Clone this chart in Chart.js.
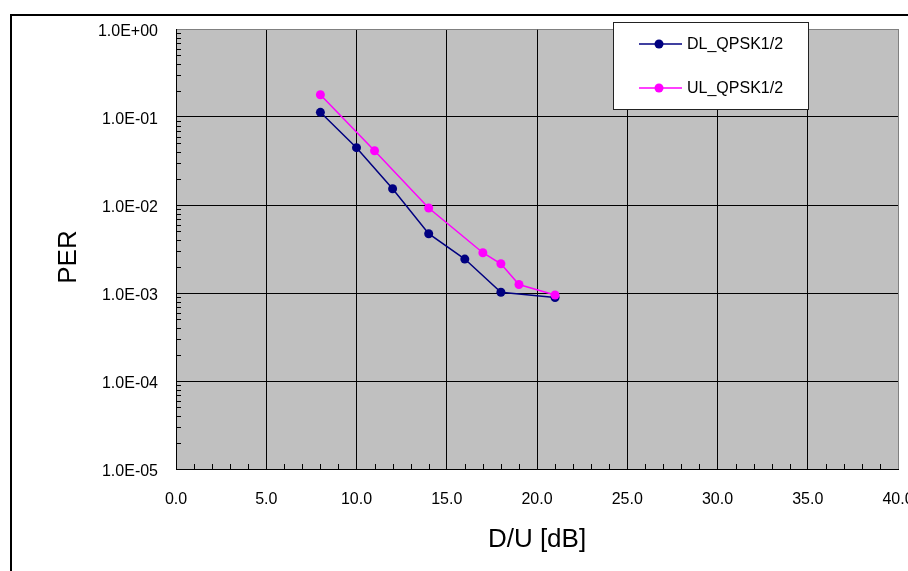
<!DOCTYPE html>
<html>
<head>
<meta charset="utf-8">
<title>PER vs D/U</title>
<script src="https://cdn.jsdelivr.net/npm/chart.js@4.4.1/dist/chart.umd.min.js"></script>
<style>
  html, body { margin: 0; padding: 0; background: #fff; }
  #wrap { width: 908px; height: 571px; position: relative; }
</style>
</head>
<body>
<div id="wrap"><canvas id="perChart" width="908" height="571"></canvas></div>
<script>
// measured PER curves (D/U in dB)
const dlDU  = [8, 10, 12, 14, 16, 18, 21];
const dlPER = [0.113, 0.0448, 0.0153, 0.00472, 0.00243, 0.00102, 0.00089];
const ulDU  = [8, 11, 14, 17, 18, 19, 21];
const ulPER = [0.179, 0.0414, 0.00925, 0.00287, 0.00215, 0.00125, 0.00095];

const xTickValues = [0, 5, 10, 15, 20, 25, 30, 35, 40];
const xTickLabels = ['0.0', '5.0', '10.0', '15.0', '20.0', '25.0', '30.0', '35.0', '40.0'];
const yTickValues = [1e-5, 1e-4, 1e-3, 1e-2, 1e-1, 1];
const yTickLabels = ['1.0E-05', '1.0E-04', '1.0E-03', '1.0E-02', '1.0E-01', '1.0E+00'];

const seriesNames = ['DL_QPSK1/2', 'UL_QPSK1/2'];
const FONT = "'Liberation Sans', Arial, sans-serif";

function toPoints(xs, ys) { return xs.map((x, i) => ({ x: x, y: ys[i] })); }

// gray plot background, outer frame, minor ticks, titles, legend
const decorPlugin = {
  id: 'decor',
  beforeDraw(chart) {
    const { ctx, chartArea: a } = chart;
    ctx.save();
    ctx.fillStyle = '#fff';
    ctx.fillRect(0, 0, chart.width, chart.height);
    ctx.fillStyle = '#c0c0c0';
    ctx.fillRect(a.left, a.top, a.right - a.left, a.bottom - a.top);
    ctx.restore();
  },
  beforeDatasetsDraw(chart) {
    const { ctx, chartArea: a, scales } = chart;
    ctx.save();
    ctx.strokeStyle = '#000';
    ctx.lineWidth = 1;
    ctx.beginPath();
    // x minor ticks every 1 dB
    for (let v = 1; v < 40; v++) {
      if (v % 5 === 0) continue;
      const px = Math.round(scales.x.getPixelForValue(v)) + 0.5;
      ctx.moveTo(px, a.bottom);
      ctx.lineTo(px, a.bottom - 5);
    }
    // y minor ticks 2..9 in each decade
    for (let e = -5; e < 0; e++) {
      for (let m = 2; m <= 9; m++) {
        const py = Math.round(scales.y.getPixelForValue(m * Math.pow(10, e))) + 0.5;
        ctx.moveTo(a.left, py);
        ctx.lineTo(a.left + 5, py);
      }
    }
    ctx.stroke();
    ctx.restore();
  },
  afterDraw(chart) {
    const { ctx } = chart;
    ctx.save();
    // outer frame
    ctx.strokeStyle = '#000';
    ctx.lineWidth = 2;
    ctx.strokeRect(11, 15, 1000, 1000);

    // axis titles
    ctx.fillStyle = '#000';
    ctx.font = '26px ' + FONT;
    ctx.textAlign = 'center';
    ctx.textBaseline = 'middle';
    ctx.fillText('D/U [dB]', 537, 540);
    ctx.save();
    ctx.translate(69, 257);
    ctx.rotate(-Math.PI / 2);
    ctx.fillText('PER', 0, 0);
    ctx.restore();

    // legend box
    ctx.fillStyle = '#fff';
    ctx.fillRect(613.5, 22.5, 195, 87);
    ctx.strokeStyle = '#222';
    ctx.lineWidth = 1;
    ctx.strokeRect(613.5, 22.5, 195, 87);
    chart.data.datasets.forEach((ds, i) => {
      const y = 44 + i * 44;
      ctx.strokeStyle = ds.borderColor;
      ctx.lineWidth = 1.5;
      ctx.beginPath();
      ctx.moveTo(639, y);
      ctx.lineTo(682, y);
      ctx.stroke();
      ctx.fillStyle = ds.backgroundColor;
      ctx.beginPath();
      ctx.arc(659, y, 4.5, 0, Math.PI * 2);
      ctx.fill();
      ctx.fillStyle = '#000';
      ctx.font = '16px ' + FONT;
      ctx.textAlign = 'left';
      ctx.textBaseline = 'middle';
      ctx.fillText(ds.label, 687, y + 1);
    });
    ctx.restore();
  }
};

new Chart(document.getElementById('perChart'), {
  type: 'line',
  data: {
    datasets: [
      {
        label: seriesNames[0],
        data: toPoints(dlDU, dlPER),
        borderColor: '#000080',
        backgroundColor: '#000080',
        borderWidth: 1.5,
        pointRadius: 4.5,
        pointBorderWidth: 0,
        tension: 0,
        order: 1
      },
      {
        label: seriesNames[1],
        data: toPoints(ulDU, ulPER),
        borderColor: '#ff00ff',
        backgroundColor: '#ff00ff',
        borderWidth: 1.5,
        pointRadius: 4.5,
        pointBorderWidth: 0,
        tension: 0,
        order: 0
      }
    ]
  },
  options: {
    responsive: false,
    animation: false,
    layout: { autoPadding: false, padding: { left: 0, top: 29, right: 10, bottom: 0 } },
    plugins: { legend: { display: false }, tooltip: { enabled: false } },
    scales: {
      x: {
        type: 'linear',
        min: 0, max: 40,
        afterBuildTicks: s => { s.ticks = xTickValues.map(v => ({ value: v })); },
        afterFit: s => { s.height = 102; s.paddingLeft = 0; s.paddingRight = 0; },
        ticks: {
          color: '#000',
          font: { family: FONT, size: 16 },
          padding: 21,
          maxRotation: 0,
          autoSkip: false,
          callback: (v, i) => xTickLabels[i]
        },
        grid: {
          drawTicks: false,
          lineWidth: 1,
          color: c => (c.tick && c.tick.value === 40 ? '#808080' : '#000')
        },
        border: { display: true, color: '#000', width: 1 }
      },
      y: {
        type: 'logarithmic',
        min: 1e-5, max: 1,
        afterBuildTicks: s => { s.ticks = yTickValues.map(v => ({ value: v, major: true })); },
        afterFit: s => { s.width = 176; s.paddingTop = 0; s.paddingBottom = 0; },
        ticks: {
          color: '#000',
          font: { family: FONT, size: 16 },
          padding: 18,
          labelOffset: 3,
          autoSkip: false,
          callback: (v, i) => yTickLabels[i]
        },
        grid: {
          drawTicks: false,
          lineWidth: 1,
          color: c => (c.tick && c.tick.value === 1 ? '#808080' : '#000')
        },
        border: { display: true, color: '#000', width: 1 }
      }
    }
  },
  plugins: [decorPlugin]
});
</script>
</body>
</html>
